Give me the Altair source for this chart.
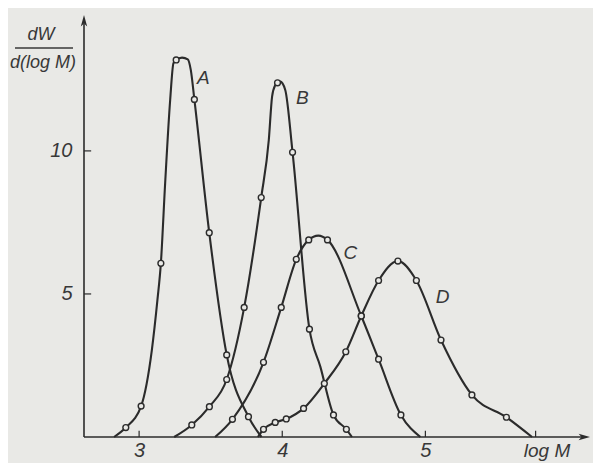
import altair as alt
import pandas as pd

# ---- data (x = log M, y = dW/d(log M)) ----
A_x = [2.825, 2.907, 3.014, 3.089, 3.128, 3.152, 3.182, 3.217, 3.240, 3.259, 3.300, 3.340, 3.361, 3.386, 3.490, 3.612, 3.764, 3.855]
A_y = [0.0, 0.33, 1.08, 3.04, 4.79, 6.07, 8.88, 11.78, 13.07, 13.18, 13.26, 13.20, 12.83, 11.80, 7.14, 2.87, 0.71, 0.0]
A_m = [0, 1, 1, 0, 0, 1, 0, 0, 0, 1, 0, 0, 0, 1, 1, 1, 1, 0]

B_x = [3.245, 3.368, 3.491, 3.612, 3.734, 3.853, 3.906, 3.929, 3.951, 3.967, 3.986, 4.021, 4.072, 4.190, 4.266, 4.358, 4.448, 4.487]
B_y = [0.0, 0.42, 1.06, 2.01, 4.53, 8.37, 10.38, 11.90, 12.30, 12.38, 12.42, 12.13, 9.95, 3.77, 2.46, 0.77, 0.27, 0.0]
B_m = [0, 1, 1, 1, 1, 1, 0, 0, 0, 1, 0, 0, 1, 1, 0, 1, 1, 0]

C_x = [3.531, 3.652, 3.869, 3.993, 4.098, 4.185, 4.252, 4.316, 4.552, 4.673, 4.829, 4.965]
C_y = [0.0, 0.62, 2.61, 4.53, 6.21, 6.89, 7.04, 6.89, 4.23, 2.72, 0.77, 0.0]
C_m = [0, 1, 1, 1, 1, 1, 0, 1, 1, 1, 1, 0]

D_x = [3.830, 3.869, 3.951, 4.028, 4.149, 4.294, 4.444, 4.552, 4.673, 4.808, 4.937, 5.109, 5.325, 5.566, 5.745]
D_y = [0.0, 0.27, 0.51, 0.63, 1.00, 1.87, 2.98, 4.23, 5.47, 6.15, 5.47, 3.39, 1.47, 0.69, 0.0]
D_m = [0, 1, 1, 1, 1, 1, 1, 1, 1, 1, 1, 1, 1, 1, 0]

curve_names = ["A", "B", "C", "D"]
label_x = [3.448, 4.140, 4.475, 5.120]
label_y = [12.55, 11.85, 6.43, 4.90]

x_ticks = [3, 4, 5]
x_extra_tick = [5.77]
y_ticks = [5, 10]

X_MIN, X_MAX = 2.615, 6.15
Y_MIN, Y_MAX = 0.0, 14.75

BG = "#e9e9e6"
INK = "#2b2b2b"
TXT = "#383838"
FONT = "Liberation Sans"

rows = []
for name, xs_, ys_, ms_ in zip(curve_names, [A_x, B_x, C_x, D_x], [A_y, B_y, C_y, D_y], [A_m, B_m, C_m, D_m]):
    for i, (xv, yv, mv) in enumerate(zip(xs_, ys_, ms_)):
        rows.append({"curve": name, "x": xv, "y": yv, "m": mv, "i": i})
df = pd.DataFrame(rows)

xs = alt.Scale(domain=[X_MIN, X_MAX], nice=False, zero=False)
ys = alt.Scale(domain=[Y_MIN, Y_MAX], nice=False, zero=False)

xaxis = alt.Axis(values=x_ticks, format="d", title=None, domain=False, ticks=False, grid=False,
                 labelFont=FONT, labelFontStyle="italic", labelFontSize=20, labelColor=TXT,
                 labelPadding=3)
yaxis = alt.Axis(values=y_ticks, format="d", title=None, domain=False, ticks=False, grid=False,
                 labelFont=FONT, labelFontStyle="italic", labelFontSize=20, labelColor=TXT,
                 labelPadding=12)

lines = alt.Chart(df).mark_line(interpolate="monotone", color=INK, strokeWidth=2.1).encode(
    x=alt.X("x:Q", scale=xs, axis=xaxis),
    y=alt.Y("y:Q", scale=ys, axis=yaxis),
    detail="curve:N",
    order="i:Q",
)

markers = alt.Chart(df).transform_filter("datum.m == 1").mark_point(
    shape="circle", filled=True, fill=BG, stroke=INK, strokeWidth=1.4, size=34, opacity=1
).encode(x=alt.X("x:Q", scale=xs), y=alt.Y("y:Q", scale=ys))

# axis lines
yline = alt.Chart(pd.DataFrame({"x": [X_MIN], "y": [Y_MIN], "y2": [Y_MAX - 0.3]})).mark_rule(
    color=INK, strokeWidth=1.6).encode(x=alt.X("x:Q", scale=xs), y=alt.Y("y:Q", scale=ys), y2="y2:Q")
xline = alt.Chart(pd.DataFrame({"x": [X_MIN], "x2": [X_MAX - 0.05], "y": [Y_MIN]})).mark_rule(
    color=INK, strokeWidth=1.6).encode(x=alt.X("x:Q", scale=xs), x2="x2:Q", y=alt.Y("y:Q", scale=ys))

up_arrow = alt.Chart(pd.DataFrame({"x": [X_MIN], "y": [Y_MAX]})).mark_point(
    shape="M0,0 L0.28,1 L0,0.75 L-0.28,1 Z", filled=True, color=INK, size=520, opacity=1
).encode(x=alt.X("x:Q", scale=xs), y=alt.Y("y:Q", scale=ys))
right_arrow = alt.Chart(pd.DataFrame({"x": [X_MAX], "y": [Y_MIN]})).mark_point(
    shape="M0,0 L-1,-0.28 L-0.75,0 L-1,0.28 Z", filled=True, color=INK, size=520, opacity=1
).encode(x=alt.X("x:Q", scale=xs), y=alt.Y("y:Q", scale=ys))

# ticks pointing into the plot
xt = pd.DataFrame({"x": x_ticks + x_extra_tick})
xt["y"] = Y_MIN
xt["y2"] = Y_MIN + 0.22
xtick = alt.Chart(xt).mark_rule(color=INK, strokeWidth=1.2).encode(
    x=alt.X("x:Q", scale=xs), y=alt.Y("y:Q", scale=ys), y2="y2:Q")
yt = pd.DataFrame({"y": y_ticks})
yt["x"] = X_MIN
yt["x2"] = X_MIN + 0.05
ytick = alt.Chart(yt).mark_rule(color=INK, strokeWidth=1.2).encode(
    x=alt.X("x:Q", scale=xs), x2="x2:Q", y=alt.Y("y:Q", scale=ys))

labels = alt.Chart(pd.DataFrame({"t": curve_names, "x": label_x, "y": label_y})).mark_text(
    font=FONT, fontStyle="italic", fontSize=19, color=TXT
).encode(x=alt.X("x:Q", scale=xs), y=alt.Y("y:Q", scale=ys), text="t:N")

# y axis title as fraction, x axis title
dw = alt.Chart(pd.DataFrame({"t": ["dW"]})).mark_text(
    font=FONT, fontStyle="italic", fontSize=18, color=TXT
).encode(x=alt.value(-43), y=alt.value(20), text="t:N")
frac = alt.Chart(pd.DataFrame({"t": ["-"]})).mark_rule(color=TXT, strokeWidth=1.4).encode(
    x=alt.value(-69), x2=alt.value(-11), y=alt.value(33))
dlog = alt.Chart(pd.DataFrame({"t": ["d(log M)"]})).mark_text(
    font=FONT, fontStyle="italic", fontSize=18, color=TXT
).encode(x=alt.value(-41), y=alt.value(48), text="t:N")
xtitle = alt.Chart(pd.DataFrame({"t": ["log M"]})).mark_text(
    font=FONT, fontStyle="italic", fontSize=19, color=TXT
).encode(x=alt.value(463), y=alt.value(436), text="t:N")

chart = alt.layer(
    lines, yline, xline, up_arrow, right_arrow, xtick, ytick, markers, labels, dw, frac, dlog, xtitle
).properties(
    width=506, height=422,
    autosize=alt.AutoSizeParams(type="none"),
    padding={"left": 76, "top": 7, "right": 3, "bottom": 26},
    background=BG,
).configure_view(stroke=None)

chart.save("out.html", embed_options={"renderer": "svg", "actions": False})
